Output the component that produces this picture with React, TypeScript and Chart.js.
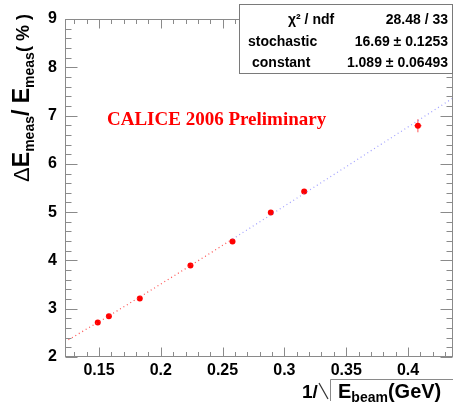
import React, { useEffect, useRef } from "react";
import { Chart, registerables } from "chart.js";
Chart.register(...registerables);

// measured points: x = 1/sqrt(E_beam), y = resolution in %
const invSqrtE = [0.149, 0.158, 0.183, 0.224, 0.258, 0.289, 0.316, 0.408];
const resolution = [2.713, 2.844, 3.211, 3.895, 4.392, 4.993, 5.429, 6.789];
const resolutionErr = [0.03, 0.03, 0.03, 0.03, 0.03, 0.03, 0.03, 0.135];
const invSqrtEErr = [0, 0, 0, 0, 0, 0, 0, 0.003];

// fit curve samples (red part, then blue part)
const fitRedX = [0.1225, 0.15, 0.175, 0.2, 0.225, 0.25, 0.258];
const fitRedY = [2.3165, 2.73, 3.117, 3.511, 3.91, 4.312, 4.4415];
const fitBlueX = [0.258, 0.275, 0.3, 0.325, 0.35, 0.375, 0.4, 0.4364];
const fitBlueY = [4.4415, 4.717, 5.124, 5.533, 5.942, 6.353, 6.764, 7.364];

const xTickValues = [0.15, 0.2, 0.25, 0.3, 0.35, 0.4];
const xTickLabels = ["0.15", "0.2", "0.25", "0.3", "0.35", "0.4"];
const yTickValues = [2, 3, 4, 5, 6, 7, 8, 9];

const statsLabels = ["\u03c7\u00b2 / ndf", "stochastic", "constant"];
const statsValues = ["28.48 / 33", "16.69 \u00b1 0.1253", "1.089 \u00b1 0.06493"];

const FONT = "'Liberation Sans', Arial, Helvetica, sans-serif";

type Run = { t: string; size: number; dy: number; w?: string };

function drawRuns(ctx: CanvasRenderingContext2D, runs: Run[], x: number, y: number) {
  let cx = x;
  for (const r of runs) {
    ctx.font = `${r.w || "bold"} ${r.size}px ${FONT}`;
    ctx.fillText(r.t, cx, y + r.dy);
    cx += ctx.measureText(r.t).width;
  }
}
function runsWidth(ctx: CanvasRenderingContext2D, runs: Run[]) {
  let w = 0;
  for (const r of runs) {
    ctx.font = `${r.w || "bold"} ${r.size}px ${FONT}`;
    w += ctx.measureText(r.t).width;
  }
  return w;
}

const decorPlugin = {
  id: "decor",
  beforeDatasetsDraw(chart: any) {
    const ctx: CanvasRenderingContext2D = chart.ctx;
    const xs = chart.scales.x;
    const ys = chart.scales.y;
    ctx.save();
    ctx.strokeStyle = "rgba(255,40,40,0.8)";
    ctx.lineWidth = 1;
    invSqrtE.forEach((xv, i) => {
      const px = xs.getPixelForValue(xv);
      const py = ys.getPixelForValue(resolution[i]);
      const y1 = ys.getPixelForValue(resolution[i] + resolutionErr[i]);
      const y2 = ys.getPixelForValue(resolution[i] - resolutionErr[i]);
      ctx.beginPath();
      ctx.moveTo(px, y1);
      ctx.lineTo(px, y2);
      if (invSqrtEErr[i] > 0) {
        const x1 = xs.getPixelForValue(xv - invSqrtEErr[i]);
        const x2 = xs.getPixelForValue(xv + invSqrtEErr[i]);
        ctx.moveTo(x1, py);
        ctx.lineTo(x2, py);
      }
      ctx.stroke();
    });
    ctx.restore();
  },
  afterDraw(chart: any) {
    const ctx: CanvasRenderingContext2D = chart.ctx;
    const { left, right, top, bottom } = chart.chartArea;
    const xs = chart.scales.x;
    const ys = chart.scales.y;
    ctx.save();
    ctx.strokeStyle = "#8a8a8a";
    ctx.lineWidth = 1;
    const L = Math.round(left) + 0.5;
    const R = Math.round(right) - 0.5;
    const T = Math.round(top) + 0.5;
    const B = Math.round(bottom) - 0.5;
    ctx.strokeRect(L, T, R - L, B - T);
    ctx.beginPath();
    // x ticks
    for (let v = 0.13; v <= 0.4364; v += 0.01) {
      const px = Math.round(xs.getPixelForValue(v)) + 0.5;
      const major = xTickValues.some((t) => Math.abs(t - v) < 1e-6);
      const len = major ? 9 : 4.5;
      ctx.moveTo(px, B);
      ctx.lineTo(px, B - len);
      ctx.moveTo(px, T);
      ctx.lineTo(px, T + len);
    }
    // y ticks
    for (let v = 2; v <= 9.0001; v += 0.2) {
      const py = Math.round(ys.getPixelForValue(v)) + 0.5;
      const major = yTickValues.some((t) => Math.abs(t - v) < 1e-6);
      const len = major ? 12 : 6;
      ctx.moveTo(L, py);
      ctx.lineTo(L + len, py);
      ctx.moveTo(R, py);
      ctx.lineTo(R - len, py);
    }
    ctx.stroke();

    // stats box
    ctx.fillStyle = "#ffffff";
    ctx.fillRect(239, 4, 214, 70);
    ctx.strokeStyle = "#7a7a7a";
    ctx.strokeRect(239.5, 4.5, 213, 69);
    ctx.fillStyle = "#000000";
    ctx.font = `bold 14px ${FONT}`;
    ctx.textBaseline = "middle";
    const rowsY = [20, 42, 63];
    const labelX = [288, 248, 252];
    statsLabels.forEach((s, i) => {
      ctx.textAlign = "left";
      ctx.fillText(s, labelX[i], rowsY[i]);
      ctx.textAlign = "right";
      ctx.fillText(statsValues[i], 448, rowsY[i]);
    });

    // CALICE label
    ctx.textAlign = "left";
    ctx.textBaseline = "alphabetic";
    ctx.fillStyle = "#ff0000";
    ctx.font = "bold 19px 'Liberation Serif', 'Times New Roman', serif";
    ctx.fillText("CALICE 2006 Preliminary", 107, 125);

    // y title
    ctx.fillStyle = "#000000";
    const yRuns: Run[] = [
      { t: "\u0394", size: 22, dy: 0, w: "normal" },
      { t: "E", size: 23, dy: 0 },
      { t: "meas", size: 14, dy: 5 },
      { t: "/ E", size: 23, dy: 0 },
      { t: "meas", size: 14, dy: 5 },
      { t: "( % )", size: 18, dy: 0 },
    ];
    ctx.save();
    ctx.translate(29, 98);
    ctx.rotate(-Math.PI / 2);
    const w = runsWidth(ctx, yRuns);
    drawRuns(ctx, yRuns, -w / 2, 0);
    ctx.restore();

    // x title
    drawRuns(ctx, [{ t: "1/", size: 19, dy: 0 }], 302, 398);
    ctx.strokeStyle = "#333333";
    ctx.lineWidth = 1.2;
    ctx.beginPath();
    ctx.moveTo(319, 383);
    ctx.lineTo(328, 399);
    ctx.stroke();
    ctx.strokeStyle = "#8a8a8a";
    ctx.lineWidth = 1;
    ctx.beginPath();
    ctx.moveTo(330.5, 401);
    ctx.lineTo(330.5, 379.5);
    ctx.lineTo(453, 379.5);
    ctx.stroke();
    drawRuns(
      ctx,
      [
        { t: "E", size: 20, dy: 0 },
        { t: "beam", size: 14, dy: 4 },
        { t: "(GeV)", size: 20, dy: 0 },
      ],
      338,
      398
    );
    ctx.restore();
  },
};

export default function App() {
  const ref = useRef<HTMLCanvasElement>(null);
  useEffect(() => {
    document.body.style.margin = "0";
    const canvas = ref.current!;
    const chart = new Chart(canvas, {
      type: "scatter",
      data: {
        datasets: [
          {
            type: "line",
            data: fitRedX.map((x, i) => ({ x, y: fitRedY[i] })),
            borderColor: "rgba(255,50,50,0.85)",
            borderWidth: 1.2,
            borderDash: [1, 3],
            pointRadius: 0,
            cubicInterpolationMode: "monotone",
            fill: false,
          },
          {
            type: "line",
            data: fitBlueX.map((x, i) => ({ x, y: fitBlueY[i] })),
            borderColor: "rgba(120,120,255,0.7)",
            borderWidth: 1.2,
            borderDash: [1, 3],
            pointRadius: 0,
            cubicInterpolationMode: "monotone",
            fill: false,
          },
          {
            data: invSqrtE.map((x, i) => ({ x, y: resolution[i] })),
            backgroundColor: "#ff0000",
            borderColor: "#ff0000",
            pointRadius: 3,
            pointBorderWidth: 0,
          },
        ],
      } as any,
      options: {
        animation: false,
        responsive: false,
        devicePixelRatio: 1,
        layout: { padding: { top: 19, right: 8, left: 0, bottom: 0 } },
        plugins: { legend: { display: false }, tooltip: { enabled: false } },
        scales: {
          x: {
            type: "linear",
            min: 0.1225,
            max: 0.4364,
            grid: { display: false, drawTicks: false },
            border: { display: false },
            afterBuildTicks: (s: any) => {
              s.ticks = xTickValues.map((v) => ({ value: v }));
            },
            afterFit: (s: any) => {
              s.height = 49;
            },
            ticks: {
              color: "#000",
              padding: 4,
              maxRotation: 0,
              autoSkip: false,
              font: { family: FONT, size: 16, weight: "bold" },
              callback: (v: any) => {
                const i = xTickValues.findIndex((t) => Math.abs(t - v) < 1e-6);
                return i >= 0 ? xTickLabels[i] : "";
              },
            },
          },
          y: {
            type: "linear",
            min: 2,
            max: 9,
            grid: { display: false, drawTicks: false },
            border: { display: false },
            afterBuildTicks: (s: any) => {
              s.ticks = yTickValues.map((v) => ({ value: v }));
            },
            afterFit: (s: any) => {
              s.width = 65;
            },
            ticks: {
              color: "#000",
              padding: 8,
              autoSkip: false,
              font: { family: FONT, size: 16, weight: "bold" },
              callback: (v: any) => String(v),
            },
          },
        },
      } as any,
      plugins: [decorPlugin],
    });
    return () => chart.destroy();
  }, []);
  return (
    <div style={{ position: "absolute", left: 0, top: 0, width: 461, height: 406 }}>
      <canvas ref={ref} width={461} height={406} style={{ width: 461, height: 406 }} />
    </div>
  );
}
